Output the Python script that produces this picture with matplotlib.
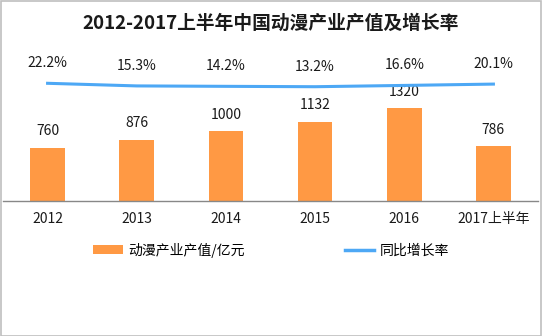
import matplotlib
matplotlib.use('Agg')
import matplotlib.pyplot as plt
from matplotlib.patches import Patch, Rectangle
from matplotlib.lines import Line2D

plt.rcParams['font.family'] = ['Noto Sans CJK SC', 'DejaVu Sans']

years = ['2012', '2013', '2014', '2015', '2016', '2017上半年']
output = [760, 876, 1000, 1132, 1320, 786]          # 动漫产业产值/亿元
growth = [22.2, 15.3, 14.2, 13.2, 16.6, 20.1]        # 同比增长率 %

W, H = 542, 336
fig = plt.figure(figsize=(W / 100, H / 100), dpi=100)
fig.patch.set_facecolor('white')

# grey frame round the whole picture
fig.add_artist(Rectangle((0.5 / W, 0.5 / H), 1 - 1.5 / W, 1 - 1.5 / H, transform=fig.transFigure,
                         fill=False, edgecolor='#bfbfbf', lw=1.2))

ax = fig.add_axes([3 / W, 1 - 201 / H, 535 / W, 151 / H])
x = range(len(years))
ax.bar(x, output, width=0.39, color='#ff9944', zorder=2)
ax.set_xlim(-0.5, len(years) - 0.5)
ax.set_ylim(0, 2152)
for i, v in enumerate(output):
    ax.annotate(str(v), (i, v), xytext=(0, 11.7), textcoords='offset points',
                ha='center', va='center', fontsize=10, color='#1a1a1a')

for s in ['top', 'right', 'left']:
    ax.spines[s].set_visible(False)
ax.spines['bottom'].set_color('#888888')
ax.spines['bottom'].set_linewidth(1.0)
ax.set_yticks([])
ax.set_xticks(list(x))
ax.set_xticklabels(years, fontsize=10, color='#1a1a1a')
ax.tick_params(axis='x', length=0, pad=8)

ax2 = ax.twinx()
ax2.plot(x, growth, color='#4da8f5', lw=2.2, zorder=3)
ax2.set_ylim(-287.5, 109.8)
ax2.set_yticks([])
for s in ax2.spines.values():
    s.set_visible(False)
for i, v in enumerate(growth):
    ax2.annotate(f'{v}%', (i, v), xytext=(0, 14.4), textcoords='offset points',
                 ha='center', va='center', fontsize=10, color='#1a1a1a')

fig.text(0.5, 1 - 23.5 / H, '2012-2017上半年中国动漫产业产值及增长率', ha='center', va='center',
         fontsize=13.5, fontweight='bold', color='#1a1a1a')

handles = [Patch(facecolor='#ff9944', edgecolor='none'),
           Line2D([0], [0], color='#4da8f5', lw=2.5)]
fig.legend(handles, ['动漫产业产值/亿元', '同比增长率'], loc='center', ncol=2,
           bbox_to_anchor=(271 / W, 1 - 250 / H), frameon=False, fontsize=10,
           handlelength=2.1, handleheight=0.6, handletextpad=0.4, columnspacing=7.2)

fig.savefig('out.png', dpi=100, facecolor='white')
